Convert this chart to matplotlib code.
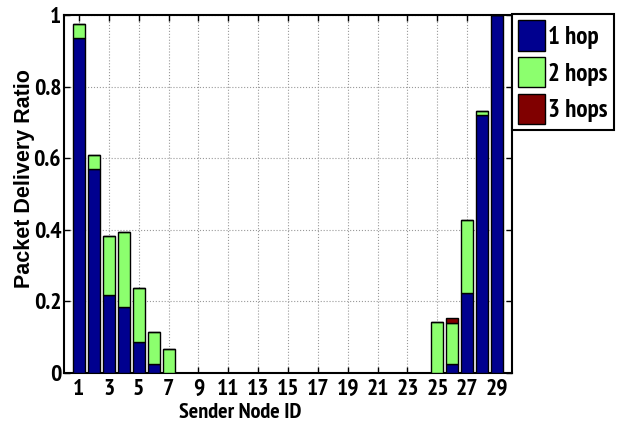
import matplotlib
matplotlib.use("Agg")
import matplotlib.pyplot as plt
from matplotlib import font_manager
import numpy as np
import logging
logging.getLogger('matplotlib.font_manager').setLevel(logging.ERROR)

candidates = ['Liberation Sans Narrow', 'Arial Narrow', 'PT Sans Narrow', 'Archivo Narrow',
              'Roboto Condensed', 'Open Sans Condensed', 'Encode Sans Condensed',
              'IBM Plex Sans Condensed', 'Fira Sans Condensed', 'Barlow Semi Condensed']
def wt(w):
    if isinstance(w, str):
        return {'bold': 700, 'heavy': 800, 'black': 900, 'semibold': 600, 'demibold': 600}.get(w.lower(), 400)
    return w
chosen = None
for c in candidates:
    if any(f.name == c and wt(f.weight) >= 700 and f.style == 'normal' for f in font_manager.fontManager.ttflist):
        chosen = c
        break
narrow = ([chosen] if chosen else []) + ['Liberation Sans', 'DejaVu Sans']
plt.rcParams['font.family'] = narrow
plt.rcParams['font.weight'] = 'bold'

nodes = list(range(1, 31))
hop1 = [0.935, 0.570, 0.219, 0.184, 0.087, 0.025, 0.0] + [0.0]*17 + [0.0, 0.026, 0.224, 0.720, 1.0, 0.0]
hop2 = [0.039, 0.038, 0.164, 0.209, 0.151, 0.090, 0.068] + [0.0]*17 + [0.142, 0.113, 0.203, 0.013, 0.0, 0.0]
hop3 = [0.0]*25 + [0.015, 0.0, 0.0, 0.0, 0.0]
labels = ['1 hop', '2 hops', '3 hops']
colors = ['#00008F', '#8CFF6E', '#800000']
xticks = list(range(1, 30, 2))
yticks = [0, 0.2, 0.4, 0.6, 0.8, 1]
ytick_labels = ['0', '0.2', '0.4', '0.6', '0.8', '1']

fig = plt.figure(figsize=(6.26, 4.23), dpi=100)
ax = fig.add_axes([64/626, 1-373/423, 448/626, 358/423])

x = np.array(nodes)
h1 = np.array(hop1); h2 = np.array(hop2); h3 = np.array(hop3)
bottoms = [np.zeros_like(h1), h1, h1 + h2]
for vals, b, c, lab in zip([h1, h2, h3], bottoms, colors, labels):
    ax.bar(x, vals, bottom=b, width=0.8, color=c, edgecolor='black', linewidth=1.0, label=lab, zorder=3)

ax.set_xlim(0, 30)
ax.set_ylim(0, 1)
ax.set_xticks(xticks)
ax.set_xticklabels([str(t) for t in xticks])
ax.set_yticks(yticks)
ax.set_yticklabels(ytick_labels)
ax.tick_params(direction='in', top=True, right=True, labelsize=17, length=4, width=1)
ax.tick_params(axis='x', pad=4)
ax.tick_params(axis='y', pad=2)
for lbl in ax.get_xticklabels() + ax.get_yticklabels():
    lbl.set_fontweight('bold')
ax.grid(True, linestyle=':', color='#999999', linewidth=0.8, zorder=0)
for s in ax.spines.values():
    s.set_linewidth(1.5)
ax.set_xlabel('Sender Node ID', fontsize=16, fontweight='bold', va='center', ha='center')
ax.xaxis.set_label_coords(0.393, -0.11)
ax.set_ylabel('Packet Delivery Ratio', fontsize=15.5, fontweight='bold',
              family=['Liberation Sans', 'DejaVu Sans'], va='center', ha='center')
ax.yaxis.set_label_coords(-0.089, 0.542)

leg = fig.legend(loc='upper left', bbox_to_anchor=(512/626, 1-14/423),
                 prop={'weight': 'bold', 'size': 18, 'family': narrow}, fancybox=False, framealpha=1,
                 edgecolor='black', handlelength=1.05, handleheight=1.5, handletextpad=0.15,
                 borderpad=0.25, labelspacing=0.25, borderaxespad=0)
leg.get_frame().set_linewidth(1.5)

fig.savefig('out.png', dpi=100)
